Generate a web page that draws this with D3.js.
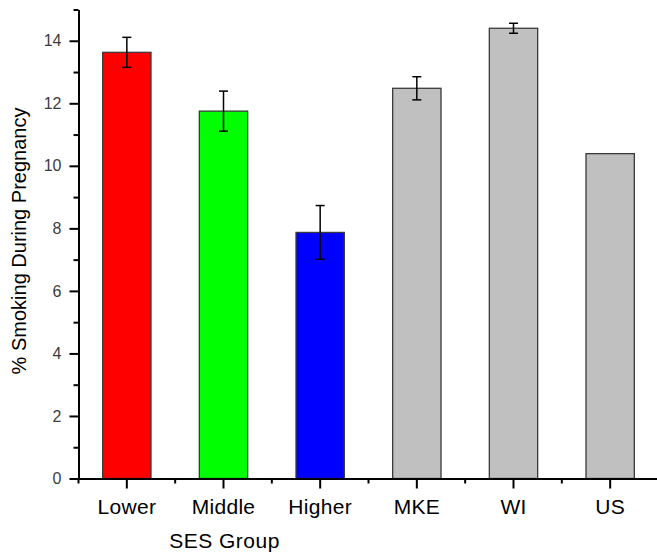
<!DOCTYPE html>
<html>
<head>
<meta charset="utf-8">
<script src="https://cdn.jsdelivr.net/npm/d3@7"></script>
<style>
  body { margin: 0; background: #fff; }
  svg { display: block; font-family: "Liberation Sans", Arial, sans-serif; }
</style>
</head>
<body>
<svg width="657" height="554"></svg>
<script>
var width = 657,
    height = 554;

// data
var groups = ["Lower", "Middle", "Higher", "MKE", "WI", "US"];
var values = [13.63, 11.75, 7.87, 12.48, 14.40, 10.39];
var errors = [0.48, 0.64, 0.86, 0.37, 0.16, null];
var colors = ["#ff0000", "#00ff00", "#0000ff", "#c0c0c0", "#c0c0c0", "#c0c0c0"];
var yMajor = [0, 2, 4, 6, 8, 10, 12, 14];
var yMinor = [1, 3, 5, 7, 9, 11, 13, 15];

var svg = d3.select("svg");

var x = d3.scaleBand()
  .domain(groups)
  .range([78.5, 658.5])
  .paddingInner(0.5)
  .paddingOuter(0.25);

var y = d3.scaleLinear()
  .domain([0, 15])
  .range([478.5, 9.5]);

// bars
svg.append("g")
  .selectAll("rect")
  .data(groups)
  .enter().append("rect")
  .attr("x", function (d) { return x(d); })
  .attr("y", function (d, i) { return y(values[i]); })
  .attr("width", x.bandwidth())
  .attr("height", function (d, i) { return y(0) - y(values[i]); })
  .attr("fill", function (d, i) { return colors[i]; })
  .attr("stroke", "#3a3a3a")
  .attr("stroke-width", 1.3);

// error bars
var errData = groups.map(function (g, i) { return {g: g, v: values[i], e: errors[i]}; })
  .filter(function (d) { return d.e != null; });

var eb = svg.append("g")
  .attr("stroke", "#000")
  .attr("stroke-width", 1.5)
  .selectAll("g")
  .data(errData)
  .enter().append("g")
  .attr("transform", function (d) { return "translate(" + (x(d.g) + x.bandwidth() / 2) + ",0)"; });

eb.append("line")
  .attr("y1", function (d) { return y(d.v + d.e); })
  .attr("y2", function (d) { return y(d.v - d.e); });
eb.append("line")
  .attr("x1", -4.5).attr("x2", 4.5)
  .attr("y1", function (d) { return y(d.v + d.e); })
  .attr("y2", function (d) { return y(d.v + d.e); });
eb.append("line")
  .attr("x1", -4.5).attr("x2", 4.5)
  .attr("y1", function (d) { return y(d.v - d.e); })
  .attr("y2", function (d) { return y(d.v - d.e); });

// y axis
var yAxis = svg.append("g")
  .attr("transform", "translate(78.5,0)")
  .call(d3.axisLeft(y).tickValues(yMajor).tickSize(9).tickPadding(8).tickSizeOuter(0));
yAxis.select(".domain").attr("stroke-width", 2);
yAxis.selectAll(".tick line").attr("stroke-width", 2);
yAxis.selectAll("text")
  .attr("fill", "#3c3c3c")
  .style("font-size", "16px");

svg.append("g")
  .attr("transform", "translate(78.5,0)")
  .call(d3.axisLeft(y).tickValues(yMinor).tickSize(5).tickFormat("").tickSizeOuter(0))
  .call(function (g) { g.select(".domain").remove(); })
  .selectAll(".tick line").attr("stroke-width", 2);

// x axis
var xAxis = svg.append("g")
  .attr("transform", "translate(0," + y(0) + ")")
  .call(d3.axisBottom(x).tickSize(10).tickPadding(11).tickSizeOuter(0));
xAxis.select(".domain").attr("stroke-width", 2);
xAxis.selectAll(".tick line").attr("stroke-width", 2);
xAxis.selectAll("text")
  .attr("fill", "#000")
  .style("font-size", "21px")
  .style("letter-spacing", "0.3px");

// minor x ticks at band edges
var edges = groups.map(function (g) { return x(g) - x.step() * x.paddingInner() / 2; });
svg.append("g")
  .attr("stroke", "#000")
  .attr("stroke-width", 2)
  .selectAll("line")
  .data(edges)
  .enter().append("line")
  .attr("x1", function (d) { return d; })
  .attr("x2", function (d) { return d; })
  .attr("y1", y(0))
  .attr("y2", y(0) + 5);

// axis titles
svg.append("text")
  .attr("transform", "translate(26,241) rotate(-90)")
  .attr("text-anchor", "middle")
  .style("font-size", "20px")
  .text("% Smoking During Pregnancy");

svg.append("text")
  .attr("x", 224.5)
  .attr("y", 548)
  .attr("text-anchor", "middle")
  .style("font-size", "21px")
  .style("letter-spacing", "0.5px")
  .text("SES Group");
</script>
</body>
</html>
